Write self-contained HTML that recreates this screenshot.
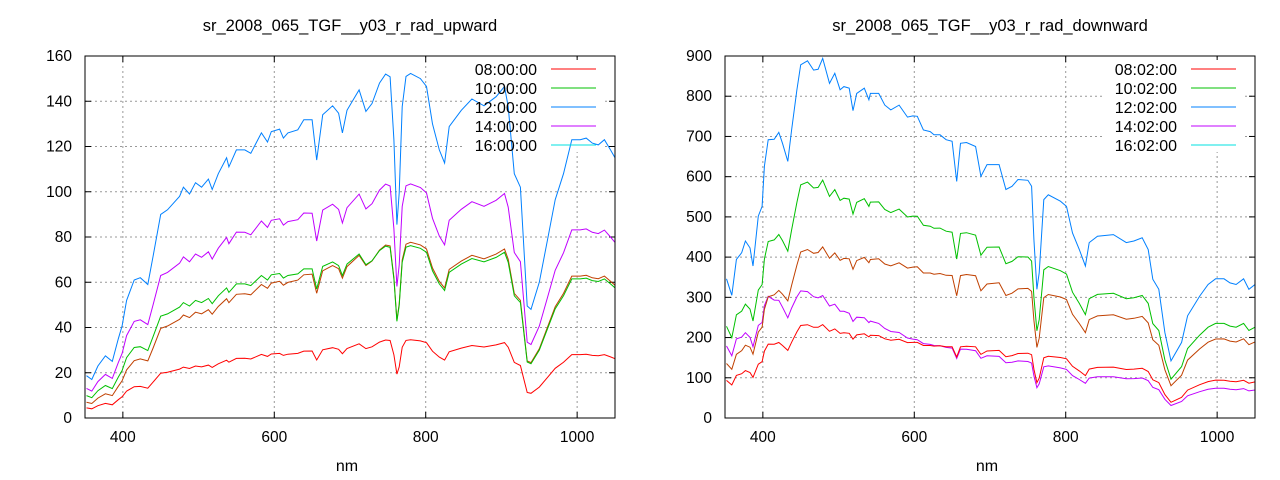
<!DOCTYPE html><html><head><style>body{margin:0;background:#fff}svg{display:block}text{font-family:"Liberation Sans",sans-serif;fill:#000}</style></head><body>
<svg id="s" width="1280" height="480" xmlns="http://www.w3.org/2000/svg"></svg>
<script>
const S=document.getElementById('s');let h='';
const U=[[352,18.7],[359,17],[367,23],[377,27.5],[386,25],[394,35],[399,40.7],[405,52],[415,61],[423,62],[433,59],[440,71.5],[450,90],[459,92],[475,98],[480,102],[488,99],[496,104],[504,102],[513,105.6],[518,101],[526,108],[537,115],[540,111],[550,118.5],[561,118.5],[569,117],[583,126],[591,122],[596,126.6],[607,127.7],[612,123.7],[618,126],[631,127.4],[639,131.8],[650,131.8],[656,114],[664,134],[677,138],[685,134.7],[690,126],[696,136],[712,145],[721,135.5],[729,139],[739,148],[747,152],[753,150.8],[758,123],[762,85.5],[765,99.5],[769,137.6],[774,151],[780,152.3],[793,150],[801,146.5],[809,130],[818,118.5],[825,112.7],[831,128.8],[847,136],[861,141],[877,138],[893,142],[904,146.5],[909,137.6],[917,108],[925,102],[934,49.5],[939,48],[950,60],[961,79],[971,96.5],[982,108],[993,123],[1004,123],[1012,123.7],[1020,121.5],[1028,120.7],[1036,123],[1044,118.5],[1051,115]];
const D=[[352,346],[359,305],[365,394],[372,411],[377,440],[383,423],[387,378],[394,502],[399,526],[402,626],[407,692],[415,693],[421,710],[426,683],[433,638],[438,716],[445,816],[450,878],[459,888],[467,865],[473,867],[479,894],[488,832],[495,857],[502,816],[507,824],[514,820],[519,764],[524,807],[534,820],[540,791],[542,807],[553,807],[561,778],[569,766],[580,778],[591,748],[598,751],[604,750],[612,716],[621,712],[626,704],[634,704],[642,692],[650,688],[656,588],[661,683],[669,685],[681,675],[688,601],[696,630],[712,630],[721,568],[729,576],[737,593],[750,591],[755,576],[758,444],[762,320],[765,361],[771,543],[777,555],[793,539],[801,526],[809,460],[818,419],[826,378],[831,436],[842,452],[863,456],[880,436],[890,440],[901,448],[909,419],[915,345],[923,320],[931,212],[939,142],[953,188],[961,254],[977,303],[988,332],[998,346],[1009,346],[1017,336],[1025,332],[1035,346],[1042,320],[1051,332]];
function interp(t,x){if(x<=t[0][0])return t[0][1];for(let i=1;i<t.length;i++)if(x<=t[i][0]){const a=t[i-1],b=t[i];return a[1]+(b[1]-a[1])*(x-a[0])/(b[0]-a[0]);}return t[t.length-1][1];}
function plot(x0,title,ymax,ystep,base,series,labels){
 const x1=x0+530,y0=56,y1=418;const X=v=>x0+(v-350)*530/700,Y=v=>y1-v*(y1-y0)/ymax;
 for(let v=400;v<=1000;v+=200){h+=`<line x1="${X(v)}" y1="${y0}" x2="${X(v)}" y2="${y1}" stroke="#999" stroke-dasharray="2,3"/>`;h+=`<text x="${X(v)}" y="${y1+24}" font-size="15.5" text-anchor="middle">${v}</text>`;
  h+=`<line x1="${X(v)}" y1="${y1}" x2="${X(v)}" y2="${y1-6}" stroke="#000"/><line x1="${X(v)}" y1="${y0}" x2="${X(v)}" y2="${y0+6}" stroke="#000"/>`;}
 for(let v=0;v<=ymax;v+=ystep){h+=`<line x1="${x0}" y1="${Y(v)}" x2="${x1}" y2="${Y(v)}" stroke="#999" stroke-dasharray="2,3"/>`;h+=`<text x="${x0-13}" y="${Y(v)+5}" font-size="15.5" text-anchor="end">${v}</text>`;
  h+=`<line x1="${x0}" y1="${Y(v)}" x2="${x0+6}" y2="${Y(v)}" stroke="#000"/><line x1="${x1}" y1="${Y(v)}" x2="${x1-6}" y2="${Y(v)}" stroke="#000"/>`;}
 h+=`<rect x="${x0+378}" y="60" width="142" height="92" fill="#fff"/>`;
 for(const [col,rat] of series){let p=[];for(const [a,b] of base){let v=b*interp(rat,a);p.push(X(Math.min(a,1050)).toFixed(1)+','+Y(v).toFixed(1));}
  h+=`<polyline points="${p.join(' ')}" fill="none" stroke="${col}" stroke-width="1"/>`;}
 h+=`<rect x="${x0}" y="${y0}" width="530" height="362" fill="none" stroke="#000"/>`;
 h+=`<text x="${x0+265}" y="31" font-size="16.5" text-anchor="middle">${title}</text><text x="${x0+262}" y="471" font-size="16" text-anchor="middle">nm</text>`;
 const cols=['#ff0000','#00c000','#0080ff','#c000ff','#00e0e0'];
 labels.forEach((l,i)=>{const y=69+i*19;h+=`<text x="${x0+452}" y="${y+6}" font-size="16" text-anchor="end">${l}</text><line x1="${x0+466}" y1="${y}" x2="${x0+511}" y2="${y}" stroke="${cols[i]}"/>`;});
}
plot(85,'sr_2008_065_TGF__y03_r_rad_upward',160,20,U,[
 ['#ff0000',[[350,0.24],[450,0.22],[750,0.227],[1050,0.228]]],
 ['#c04000',[[350,0.37],[450,0.44],[780,0.51],[1050,0.51]]],
 ['#00c000',[[350,0.53],[450,0.5],[780,0.5],[1050,0.5]]],
 ['#c000ff',[[350,0.7],[450,0.7],[750,0.68],[1050,0.675]]],
 ['#0080ff',[[350,1]]]],['08:00:00','10:00:00','12:00:00','14:00:00','16:00:00']);
plot(725,'sr_2008_065_TGF__y03_r_rad_downward',900,100,D,[
 ['#c000ff',[[350,0.52],[400,0.45],[450,0.36],[600,0.26],[800,0.23],[1050,0.21]]],
 ['#ff0000',[[350,0.27],[600,0.25],[800,0.28],[1050,0.27]]],
 ['#c04000',[[350,0.39],[450,0.47],[600,0.5],[800,0.56],[1050,0.57]]],
 ['#00c000',[[350,0.66],[400,0.63],[450,0.66],[800,0.68],[1050,0.68]]],
 ['#0080ff',[[350,1]]]],['08:02:00','10:02:00','12:02:00','14:02:00','16:02:00']);
S.innerHTML=h;
</script></body></html>
